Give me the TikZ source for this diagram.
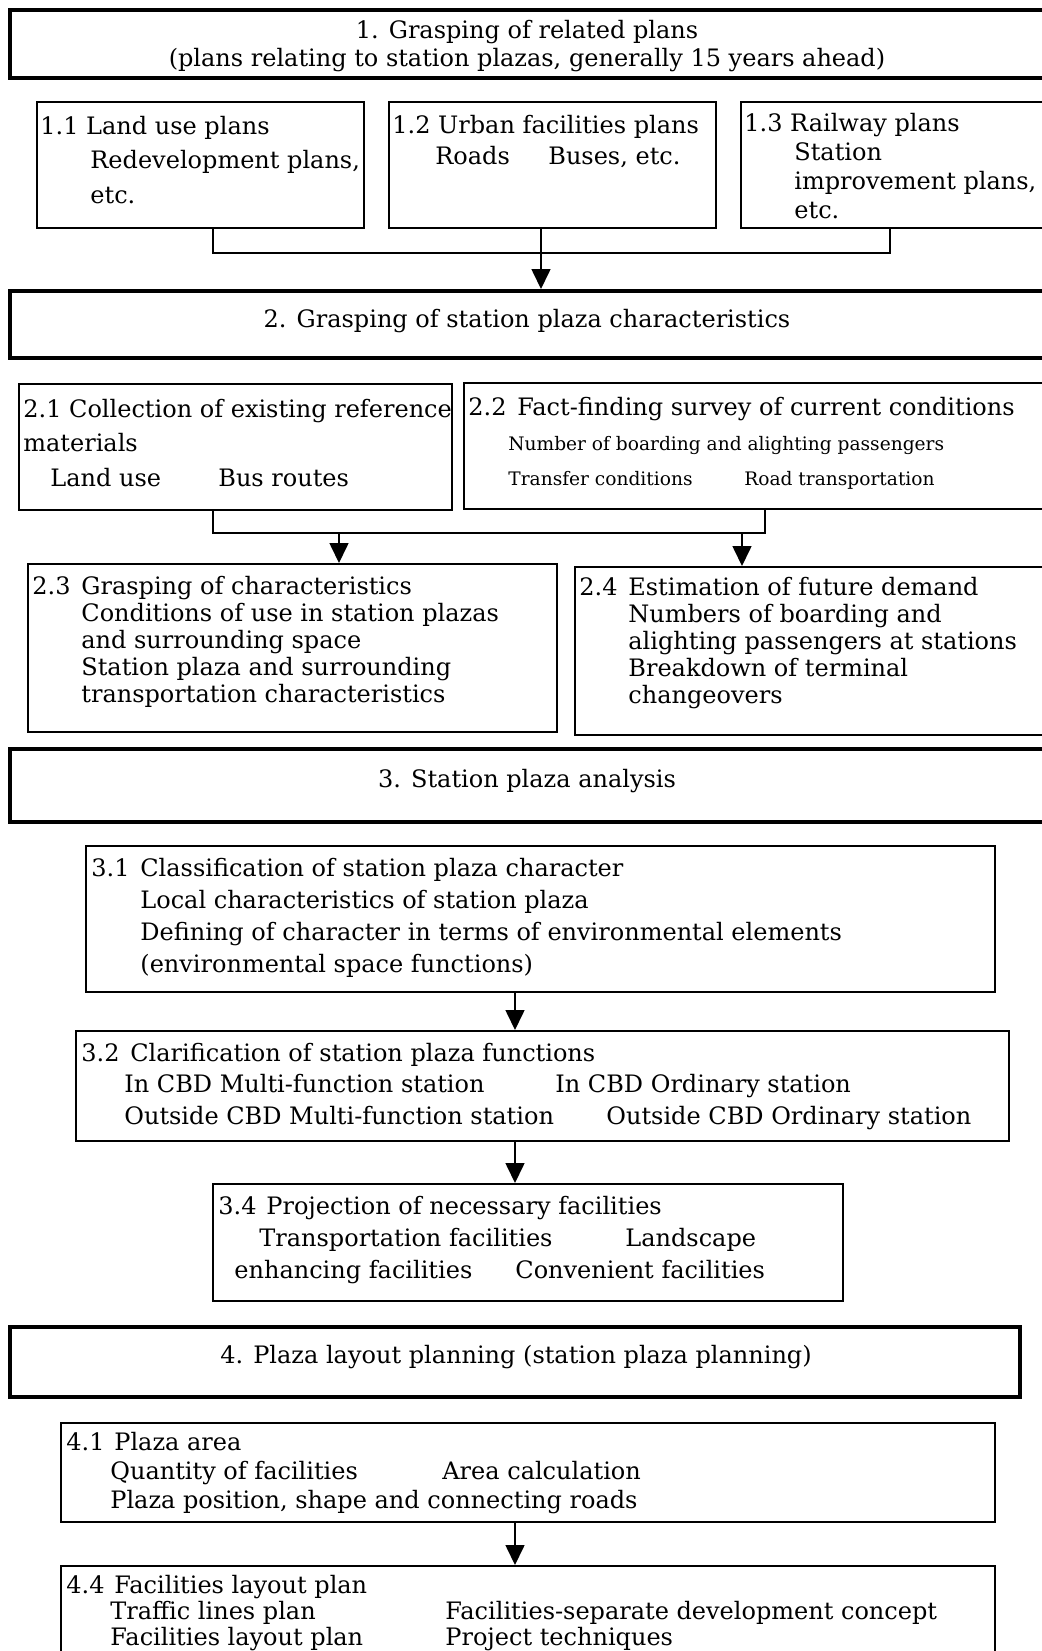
\documentclass[tikz,border=0pt]{standalone}
\usepackage{fontspec}
\setmainfont{DejaVu Serif}
\usetikzlibrary{arrows.meta,fit}

\begin{document}
\begin{tikzpicture}[x=0.5pt,y=-0.5pt,>={Triangle[length=10pt,width=9.5pt]},
  frame/.style={draw,line width=1pt,inner sep=0pt},
  bigframe/.style={draw,line width=2pt,inner sep=0pt},
  txt/.style={anchor=base west,align=left,inner sep=0pt,font=\fontsize{12}{#1}\selectfont},
  txt/.default=15,
  title/.style={anchor=base,align=center,inner sep=0pt,font=\fontsize{12}{13.7}\selectfont},
  link/.style={line width=0.8pt}]
\useasboundingbox (0,0) rectangle (1042,1651);
\clip (0,0) rectangle (1042,1651);
\node[bigframe,fit={(10,10) (1044,78)}] (b1) {};
\node[frame,fit={(36.5,102) (364,228)}] (b11) {};
\node[frame,fit={(389,102) (716,228)}] (b12) {};
\node[frame,fit={(741,102) (1068,228)}] (b13) {};
\node[bigframe,fit={(10,291) (1044,358)}] (b2) {};
\node[frame,fit={(19,384) (452,510)}] (b21) {};
\node[frame,fit={(464,383) (1080,509)}] (b22) {};
\node[frame,fit={(28,564) (557,732)}] (b23) {};
\node[frame,fit={(575,567) (1104,735)}] (b24) {};
\node[bigframe,fit={(10,749) (1044,822)}] (b3) {};
\node[frame,fit={(86,846) (995,992)}] (b31) {};
\node[frame,fit={(76,1031) (1009,1141)}] (b32) {};
\node[frame,fit={(213,1184) (843,1301)}] (b34) {};
\node[bigframe,fit={(10,1327) (1020,1397)}] (b4) {};
\node[frame,fit={(61,1423) (995,1522)}] (b41) {};
\node[frame,fit={(61,1566) (995,1720)}] (b44) {};
\coordinate (h1w) at (213,253);
\coordinate (h1m) at (541,253);
\coordinate (h1e) at (890,253);
\coordinate (h2w) at (213,533);
\coordinate (h2e) at (765,533);
\coordinate (a23) at (339,533);
\coordinate (a24) at (742,533);
\coordinate (spine) at (515,0);
\draw[link] (b11.south -| h1w) |- (h1e) -- (b13.south -| h1e);
\draw[link] (b12.south -| h1m) -- (h1m);
\draw[->,link] (h1m) -- (b2.north -| h1m);
\draw[link] (b21.south -| h2w) |- (h2e) -- (b22.south -| h2e);
\draw[->,link] (a23) -- (b23.north -| a23);
\draw[->,link] (a24) -- (b24.north -| a24);
\draw[->,link] (b31.south -| spine) -- (b32.north -| spine);
\draw[->,link] (b32.south -| spine) -- (b34.north -| spine);
\draw[->,link] (b41.south -| spine) -- (b44.north -| spine);
\node[title] (t1) at (527,66) {1. Grasping of related plans\\(plans relating to station plazas, generally 15 years ahead)};
\node[txt=17.25] (t11) at (40,203) {1.1 Land use plans\\
  \hspace*{25pt}Redevelopment plans,\\
  \hspace*{25pt}etc.};
\node[txt=15.5] (t12) at (392,164) {1.2 Urban facilities plans\\
  \hspace*{21.5pt}\makebox[56.5pt][l]{Roads}Buses, etc.};
\node[txt=14.5] (t13) at (744,218) {1.3 Railway plans\\
  \hspace*{25pt}Station\\
  \hspace*{25pt}improvement plans,\\
  \hspace*{25pt}etc.};
\node[title] (t2) at (527,327) {2. Grasping of station plaza characteristics};
\node[txt=17.25] (t21) at (23,486) {2.1 Collection of existing reference\\
  materials\\
  \hspace*{13.5pt}\makebox[84pt][l]{Land use}Bus routes};
\node[txt=17.5] (t22) at (468,485) {\makebox[24.5pt][l]{2.2}Fact-finding survey of current conditions\\
  \hspace*{20pt}\fontsize{9.3}{12}\selectfont Number of boarding and alighting passengers\\
  \hspace*{20pt}\fontsize{9.3}{12}\selectfont\makebox[118pt][l]{Transfer conditions}Road transportation};
\node[txt=13.4] (t23) at (32,702) {\makebox[24.5pt][l]{2.3}Grasping of characteristics\\
  \hspace*{24.5pt}Conditions of use in station plazas\\
  \hspace*{24.5pt}and surrounding space\\
  \hspace*{24.5pt}Station plaza and surrounding\\
  \hspace*{24.5pt}transportation characteristics};
\node[txt=13.4] (t24) at (579,703) {\makebox[24.5pt][l]{2.4}Estimation of future demand\\
  \hspace*{24.5pt}Numbers of boarding and\\
  \hspace*{24.5pt}alighting passengers at stations\\
  \hspace*{24.5pt}Breakdown of terminal\\
  \hspace*{24.5pt}changeovers};
\node[title] (t3) at (527,787) {3. Station plaza analysis};
\node[txt=15.85] (t31) at (91,972) {\makebox[24.5pt][l]{3.1}Classification of station plaza character\\
  \hspace*{24.5pt}Local characteristics of station plaza\\
  \hspace*{24.5pt}Defining of character in terms of environmental elements\\
  \hspace*{24.5pt}(environmental space functions)};
\node[txt=15.75] (t32) at (81,1124) {\makebox[24.5pt][l]{3.2}Clarification of station plaza functions\\
  \hspace*{21.5pt}\makebox[215.5pt][l]{In CBD Multi-function station}In CBD Ordinary station\\
  \hspace*{21.5pt}\makebox[241pt][l]{Outside CBD Multi-function station}Outside CBD Ordinary station};
\node[txt=16] (t34) at (218,1278) {\makebox[24pt][l]{3.4}Projection of necessary facilities\\
  \hspace*{20.5pt}\makebox[183pt][l]{Transportation facilities}Landscape\\
  \hspace*{8pt}\makebox[140.5pt][l]{enhancing facilities}Convenient facilities};
\node[title] (t4) at (516,1363) {4. Plaza layout planning (station plaza planning)};
\node[txt=14.5] (t41) at (66,1508) {\makebox[24pt][l]{4.1}Plaza area\\
  \hspace*{22pt}\makebox[166pt][l]{Quantity of facilities}Area calculation\\
  \hspace*{22pt}Plaza position, shape and connecting roads};
\node[txt=13] (t44) at (66,1645) {\makebox[24pt][l]{4.4}Facilities layout plan\\
  \hspace*{22pt}\makebox[167.5pt][l]{Traffic lines plan}Facilities-separate development concept\\
  \hspace*{22pt}\makebox[167.5pt][l]{Facilities layout plan}Project techniques};
\end{tikzpicture}
\end{document}
